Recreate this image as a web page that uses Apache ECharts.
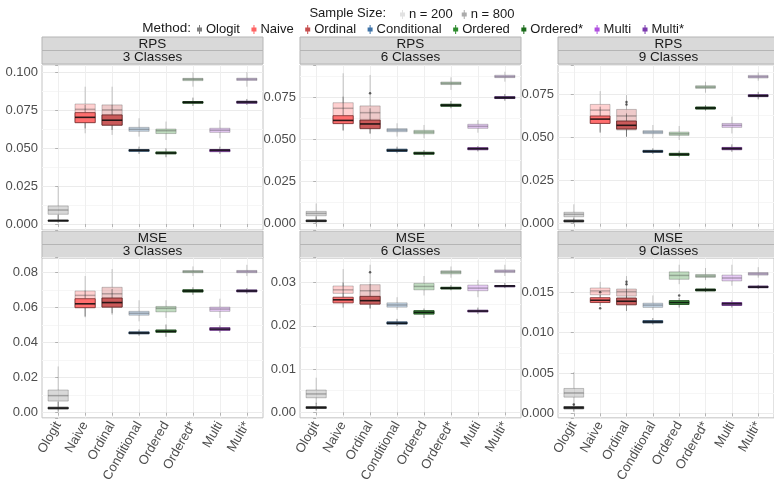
<!DOCTYPE html>
<html><head><meta charset="utf-8">
<script src="https://cdn.jsdelivr.net/npm/echarts@6.0.0/dist/echarts.min.js"></script>
<style>html,body{margin:0;padding:0;background:#fff}#c{width:774px;height:485px}</style>
</head><body><div id="c"></div>
<script>
const METHODS = ['Ologit','Naive','Ordinal','Conditional','Ordered','Ordered*','Multi','Multi*'];
const SIZES = ['n = 200','n = 800'];
const METRICS = ['RPS','MSE'];
const CLASSES = ['3 Classes','6 Classes','9 Classes'];

// [min, q1, median, q3, max] per method
const RPS3_N200 = [[0.003,0.0064,0.0092,0.0119,0.0246],[0.0598,0.0668,0.0756,0.0791,0.0905],[0.0587,0.0653,0.0752,0.0785,0.0905],[0.0576,0.0611,0.0624,0.0637,0.0697],[0.0554,0.0596,0.0615,0.0626,0.0675],[0.0905,0.0945,0.0954,0.0960,0.1000],[0.0565,0.0604,0.0618,0.0631,0.0686],[0.0905,0.0946,0.0954,0.0961,0.1000]];
const RPS3_N800 = [[0.0008,0.0018,0.0022,0.0026,0.006],[0.063,0.0668,0.0703,0.0734,0.0785],[0.062,0.0651,0.0684,0.0719,0.0785],[0.0462,0.0479,0.0486,0.0490,0.051],[0.044,0.0462,0.0468,0.0475,0.0499],[0.0778,0.0796,0.0802,0.0807,0.0833],[0.0462,0.0477,0.0486,0.0491,0.051],[0.0785,0.0796,0.0804,0.0809,0.0824]];
const RPS6_N200 = [[0.0022,0.0047,0.0061,0.0073,0.012],[0.0556,0.0596,0.0685,0.0718,0.0893],[0.0532,0.0572,0.0659,0.0699,0.0883],[0.0517,0.0546,0.0556,0.0564,0.0596],[0.0507,0.0534,0.0544,0.0554,0.0586],[0.0794,0.0826,0.0833,0.0841,0.0869],[0.054,0.0566,0.0578,0.059,0.0615],[0.0843,0.0867,0.0873,0.0881,0.0902]];
const RPS6_N800 = [[0.0002,0.0012,0.0016,0.0022,0.0042],[0.0552,0.0594,0.0613,0.0641,0.0754],[0.0536,0.0564,0.0592,0.0615,0.0685],[0.0418,0.0429,0.0435,0.0442,0.0457],[0.0398,0.0412,0.0418,0.0424,0.0437],[0.0685,0.0697,0.0703,0.0709,0.0728],[0.0429,0.0439,0.0445,0.0451,0.0461],[0.073,0.0743,0.0748,0.0754,0.077]];
const RPS9_N200 = [[0.0017,0.004,0.0054,0.0066,0.0112],[0.0532,0.058,0.0657,0.069,0.0767],[0.0503,0.0542,0.0623,0.0661,0.0744],[0.0494,0.0521,0.053,0.0538,0.0571],[0.0484,0.0511,0.052,0.053,0.0565],[0.0758,0.0783,0.079,0.0798,0.0821],[0.0522,0.0557,0.0569,0.058,0.0619],[0.0827,0.0843,0.085,0.0858,0.0875]];
const RPS9_N800 = [[0.0002,0.001,0.0015,0.0021,0.0031],[0.0526,0.058,0.0605,0.0623,0.0677],[0.0503,0.0548,0.0569,0.0594,0.0638],[0.0403,0.0413,0.0418,0.0424,0.0436],[0.0384,0.0395,0.0401,0.0407,0.0422],[0.0654,0.0663,0.0669,0.0675,0.0686],[0.0416,0.0428,0.0434,0.0441,0.0459],[0.0719,0.0735,0.074,0.0746,0.0763]];
const MSE3_N200 = [[0.0033,0.0066,0.0097,0.0129,0.0263],[0.0543,0.0598,0.0668,0.0693,0.0778],[0.0557,0.0603,0.0677,0.0714,0.0818],[0.052,0.0555,0.0566,0.0577,0.064],[0.0539,0.0574,0.0594,0.0605,0.064],[0.0778,0.0797,0.0804,0.0809,0.0833],[0.0539,0.0577,0.059,0.0601,0.0649],[0.0778,0.0797,0.0804,0.0810,0.0842]];
const MSE3_N800 = [[0.0006,0.0021,0.0026,0.0031,0.0061],[0.0548,0.0598,0.062,0.0649,0.0695],[0.0566,0.0601,0.0627,0.0653,0.0704],[0.0438,0.0449,0.0454,0.0460,0.0474],[0.0432,0.0458,0.0463,0.0471,0.0502],[0.0671,0.0687,0.0693,0.0700,0.0714],[0.0456,0.0469,0.0476,0.0484,0.0497],[0.0677,0.0688,0.0693,0.0699,0.071]];
const MSE6_N200 = [[0.002,0.00336,0.00425,0.00515,0.008],[0.0259,0.0275,0.0283,0.0292,0.0331],[0.024,0.026,0.0281,0.0295,0.0341],[0.0237,0.0243,0.0248,0.0253,0.0266],[0.027,0.0283,0.0291,0.0298,0.0315],[0.0311,0.0320,0.0324,0.0327,0.0337],[0.0266,0.0281,0.0287,0.0294,0.0306],[0.0315,0.0323,0.0326,0.0329,0.0341]];
const MSE6_N800 = [[0.0004,0.0009,0.0011,0.0013,0.0022],[0.0242,0.0253,0.026,0.0266,0.03],[0.024,0.025,0.0258,0.0268,0.0296],[0.0199,0.0204,0.0206,0.0209,0.0216],[0.0218,0.0227,0.0231,0.0235,0.024],[0.0282,0.0285,0.0287,0.0289,0.0294],[0.0227,0.0232,0.0234,0.0236,0.0242],[0.0287,0.0290,0.0292,0.0293,0.0299]];
const MSE9_N200 = [[0.0012,0.002,0.00252,0.00308,0.0051],[0.014,0.01468,0.01516,0.01552,0.01628],[0.01388,0.01452,0.01508,0.0154,0.017],[0.0128,0.01312,0.0134,0.01364,0.0146],[0.016,0.0166,0.01708,0.01752,0.0184],[0.0165,0.01684,0.017,0.0172,0.018],[0.0158,0.0164,0.01676,0.01712,0.0184],[0.0168,0.01712,0.01728,0.01744,0.0181]];
const MSE9_N800 = [[0.0002,0.00056,0.00068,0.00084,0.0012],[0.0133,0.01372,0.014,0.01432,0.0147],[0.01268,0.01344,0.01388,0.01428,0.0154],[0.011,0.0112,0.01132,0.01148,0.0118],[0.0131,0.01348,0.01372,0.01396,0.0143],[0.015,0.01516,0.01528,0.0154,0.0156],[0.0131,0.01336,0.01356,0.01372,0.014],[0.0154,0.01556,0.01564,0.01576,0.0159]];

// outliers [method index, value]
const OUT_RPS6_N800 = [[2,0.0774]];
const OUT_RPS9_N800 = [[2,0.0704],[2,0.069]];
const OUT_MSE6_N800 = [[2,0.0324]];
const OUT_MSE9_N800 = [[1,0.0150],[1,0.0130],[2,0.0163],[2,0.0160],[4,0.0146],[0,0.0011]];

const Y_TICK_STEP = [0.025,0.025,0.025,0.02,0.01,0.005];
const Y_DECIMALS = [3,3,3,2,2,3];

const COLORS = ['#7F7F7F','#FF6363','#C64E4E','#3E73A8','#2E8B2E','#1A6B1A','#B050E0','#7B3AAE'];
const SIZE_KEY_COLORS = ['#E2E2E2','#ABABAB'];

const PANELS = [
  {n200:RPS3_N200,n800:RPS3_N800,out:[]},
  {n200:RPS6_N200,n800:RPS6_N800,out:OUT_RPS6_N800},
  {n200:RPS9_N200,n800:RPS9_N800,out:OUT_RPS9_N800},
  {n200:MSE3_N200,n800:MSE3_N800,out:[]},
  {n200:MSE6_N200,n800:MSE6_N800,out:OUT_MSE6_N800},
  {n200:MSE9_N200,n800:MSE9_N800,out:OUT_MSE9_N800}
];

// layout (pixels) and axis ranges (ggplot-like expansion)
const FONT = 'Liberation Sans, Arial, sans-serif';
const COL_LEFT = [42, 300, 558];
const PANEL_W = 221;
const ROW_TOP = [65, 257.5];
const ROW_H = [165, 165.5];
const STRIP_TOP = [37, 231];
const STRIP_H = 13.5;
const Y_MIN = [-0.00396,-0.00376,-0.00366,-0.00294,-0.00127,-0.00056];
const Y_MAX = [0.1048,0.0942,0.0918,0.08837,0.03578,0.0193];

function rgbOf(hex){ return [parseInt(hex.slice(1,3),16), parseInt(hex.slice(3,5),16), parseInt(hex.slice(5,7),16)]; }
function hexA(hex, a){ const c=rgbOf(hex); return 'rgba('+c[0]+','+c[1]+','+c[2]+','+a+')'; }
function darkA(hex, f, a){ const c=rgbOf(hex).map(v=>Math.round(v*f)); return 'rgba('+c[0]+','+c[1]+','+c[2]+','+a+')'; }

function boxRenderer(sizeIdx){
  const fillA = sizeIdx===0 ? 0.3 : 0.9;
  const whisk = sizeIdx===0 ? 'rgba(60,60,60,0.28)' : 'rgba(50,50,50,0.5)';
  const med = sizeIdx===0 ? 'rgba(60,60,60,0.35)' : 'rgba(10,10,10,0.85)';
  const medW = sizeIdx===0 ? 1.5 : 1.6;
  return function(params, api){
    const m = api.value(0);
    const lo = api.coord([m, api.value(1)]);
    const q1 = api.coord([m, api.value(2)]);
    const md = api.coord([m, api.value(3)]);
    const q3 = api.coord([m, api.value(4)]);
    const hi = api.coord([m, api.value(5)]);
    const w = api.size([0.75, 0])[0];
    const cx = lo[0];
    const boxStroke = sizeIdx===0 ? 'rgba(60,60,60,0.28)' : darkA(COLORS[m], 0.5, 0.85);
    return {type:'group', children:[
      {type:'line', shape:{x1:cx,y1:hi[1],x2:cx,y2:q3[1]}, style:{stroke:whisk,lineWidth:1}},
      {type:'line', shape:{x1:cx,y1:q1[1],x2:cx,y2:lo[1]}, style:{stroke:whisk,lineWidth:1}},
      {type:'rect', shape:{x:cx-w/2,y:q3[1],width:w,height:Math.max(q1[1]-q3[1],1)}, style:{fill:hexA(COLORS[m],fillA),stroke:boxStroke,lineWidth:1}},
      {type:'line', shape:{x1:cx-w/2,y1:md[1],x2:cx+w/2,y2:md[1]}, style:{stroke:med,lineWidth:medW}}
    ]};
  };
}

const grids=[], xAxes=[], yAxes=[], series=[], graphics=[];
PANELS.forEach((p, i)=>{
  const r = Math.floor(i/3), c = i%3;
  grids.push({left:COL_LEFT[c], top:ROW_TOP[r], width:PANEL_W, height:ROW_H[r], show:true,
    backgroundColor:'#fff', borderColor:'#C4C4C4', borderWidth:1, containLabel:false});
  xAxes.push({type:'value', gridIndex:i, min:-0.6, max:7.6, minInterval:1, maxInterval:1,
    axisLine:{show:false},
    axisTick:{show:true, length:3, lineStyle:{color:'#B3B3B3'}, customValues:[0,1,2,3,4,5,6,7]},
    axisLabel:{show:r===1, rotate:60, fontSize:13, fontFamily:FONT, color:'#4D4D4D', margin:5,
      customValues:[0,1,2,3,4,5,6,7],
      formatter:v=>{const k=Math.round(v); return Math.abs(v-k)<1e-6 && METHODS[k] ? METHODS[k] : '';}},
    splitLine:{show:true, lineStyle:{color:'#EFEFEF', width:1}}
  });
  const step = Y_TICK_STEP[i], dec = Y_DECIMALS[i];
  yAxes.push({type:'value', gridIndex:i, min:Y_MIN[i], max:Y_MAX[i], minInterval:step, maxInterval:step,
    axisLine:{show:false},
    axisTick:{show:true, length:3, lineStyle:{color:'#B3B3B3'}},
    axisLabel:{fontSize:13, fontFamily:FONT, color:'#4D4D4D', margin:4,
      formatter:v=>{const k=v/step; return Math.abs(k-Math.round(k))<1e-6 ? (Math.round(k)*step).toFixed(dec) : '';}},
    splitLine:{show:true, lineStyle:{color:'#EBEBEB', width:1}},
    minorTick:{show:false, splitNumber:2},
    minorSplitLine:{show:true, lineStyle:{color:'#F6F6F6', width:1}}
  });
  [p.n200, p.n800].forEach((arr, s)=>{
    series.push({type:'custom', xAxisIndex:i, yAxisIndex:i, silent:true,
      renderItem: boxRenderer(s),
      encode:{x:0, y:[1,2,3,4,5]},
      data: arr.map((v,k)=>[k].concat(v))});
  });
  if (p.out.length) {
    series.push({type:'scatter', xAxisIndex:i, yAxisIndex:i, silent:true, symbolSize:2.5,
      itemStyle:{color:'rgba(30,30,30,0.85)'}, data:p.out});
  }
  // strips
  const x0 = COL_LEFT[c];
  [METRICS[r], CLASSES[c]].forEach((txt, k)=>{
    const y0 = STRIP_TOP[r] + k*STRIP_H;
    graphics.push({type:'rect', shape:{x:x0, y:y0, width:PANEL_W, height:STRIP_H},
      style:{fill:'#D9D9D9', stroke:'#B5B5B5', lineWidth:1}, silent:true});
    graphics.push({type:'text', x:x0+PANEL_W/2, y:y0+STRIP_H/2+0.5, silent:true,
      style:{text:txt, fill:'#1A1A1A', font:'13.5px '+FONT, align:'center', verticalAlign:'middle'}});
  });
});

// legend dummy series
SIZES.forEach((n,k)=>series.push({type:'line', name:n, data:[], xAxisIndex:0, yAxisIndex:0, color:SIZE_KEY_COLORS[k], itemStyle:{color:SIZE_KEY_COLORS[k]}}));
METHODS.forEach((n,k)=>series.push({type:'line', name:n, data:[], xAxisIndex:0, yAxisIndex:0, color:COLORS[k], itemStyle:{color:COLORS[k]}}));

const KEY_ICON = 'path://M4,0h2v5h-2z M0,5h10v8h-10z M4,13h2v5h-2z';
graphics.push({type:'text', x:386, y:13.5, silent:true, style:{text:'Sample Size:', fill:'#1A1A1A', font:'13px '+FONT, align:'right', verticalAlign:'middle'}});
graphics.push({type:'text', x:191, y:28.5, silent:true, style:{text:'Method:', fill:'#1A1A1A', font:'13.5px '+FONT, align:'right', verticalAlign:'middle'}});

const legendCommon = {orient:'horizontal', itemWidth:5, itemHeight:10, itemGap:9, icon:KEY_ICON, selectedMode:false,
  padding:0, textStyle:{fontSize:13, fontFamily:FONT, color:'#1A1A1A', padding:[0,0,0,-1]}};

const chart = echarts.init(document.getElementById('c'), null, {renderer:'canvas'});
chart.setOption({
  animation:false,
  backgroundColor:'#fff',
  legend:[
    Object.assign({}, legendCommon, {data:SIZES, left:400, top:8}),
    Object.assign({}, legendCommon, {data:METHODS, left:197, top:23, itemGap:11.5})
  ],
  grid:grids, xAxis:xAxes, yAxis:yAxes, series:series,
  graphic:{elements:graphics}
});
</script></body></html>
